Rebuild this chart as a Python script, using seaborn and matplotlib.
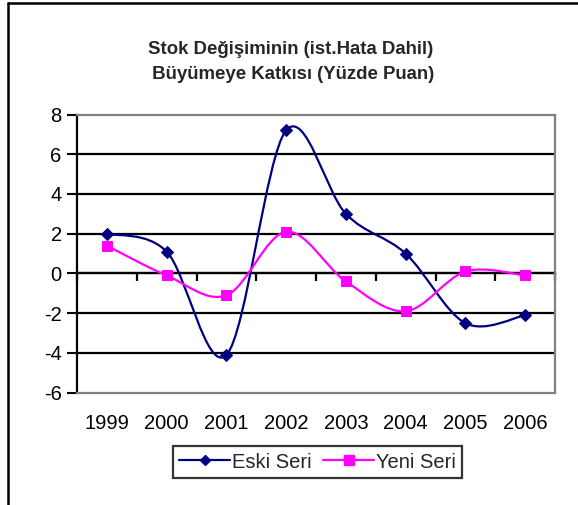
import numpy as np
import matplotlib
matplotlib.use("Agg")
import matplotlib.pyplot as plt
import seaborn as sns
from matplotlib.path import Path
from matplotlib.patches import PathPatch
from matplotlib.lines import Line2D

years = ["1999", "2000", "2001", "2002", "2003", "2004", "2005", "2006"]
eski = [2.0, 1.1, -4.1, 7.2, 3.0, 1.0, -2.5, -2.1]
yeni = [1.4, -0.1, -1.1, 2.1, -0.4, -1.9, 0.1, -0.1]
title = "Stok Değişiminin (ist.Hata Dahil)\n Büyümeye Katkısı (Yüzde Puan)"

sns.set_theme(style="white")
plt.rcParams["font.family"] = ["Liberation Sans", "DejaVu Sans"]
plt.rcParams["axes.unicode_minus"] = False

fig = plt.figure(figsize=(5.78, 5.05), dpi=100)
ax = fig.add_axes([77 / 578, 1 - 392.7 / 505, (555 - 77) / 578, (392.7 - 114.5) / 505])


def smooth_path(ys):
    # Excel-style smoothed line: cubic Bezier segments (Catmull-Rom tangents)
    pts = np.column_stack([np.arange(len(ys)), ys]).astype(float)
    verts = [pts[0]]
    codes = [Path.MOVETO]
    n = len(pts)
    for i in range(n - 1):
        p0 = pts[max(i - 1, 0)]
        p1 = pts[i]
        p2 = pts[i + 1]
        p3 = pts[min(i + 2, n - 1)]
        verts += [p1 + (p2 - p0) / 6, p2 - (p3 - p1) / 6, p2]
        codes += [Path.CURVE4] * 3
    return Path(verts, codes)


series = [("Eski Seri", eski, "#000080", "D", 6.5), ("Yeni Seri", yeni, "#FF00FF", "s", 7.5)]
handles = []
for name, vals, color, mk, ms in series:
    ax.add_patch(PathPatch(smooth_path(vals), facecolor="none", edgecolor=color,
                           linewidth=1.6, zorder=3))
    sns.lineplot(x=np.arange(len(vals)), y=vals, ax=ax, marker=mk, markersize=ms,
                 color=color, markeredgecolor=color, linestyle="", zorder=4)
    handles.append(Line2D([], [], color=color, linewidth=1.6, marker=mk,
                          markersize=ms - 1, markeredgecolor=color, label=name))

ax.set_xlim(-0.5, len(years) - 0.5)
ax.set_ylim(-6, 8)
ax.set_yticks(range(-6, 9, 2))
ax.set_xticks(range(len(years)))
ax.set_xticklabels(years)
ax.tick_params(axis="x", length=0, labelsize=14.5, pad=15, colors="black")
ax.tick_params(axis="y", length=7, width=1.5, direction="out", labelsize=14.5,
               pad=4, colors="black", left=True)

ax.yaxis.grid(True, color="black", linewidth=1.6)
for gl, v in zip(ax.get_ygridlines(), ax.get_yticks()):
    if v in (-6, 8):
        gl.set_visible(False)
ax.set_axisbelow(True)

for side in ["top", "right", "bottom"]:
    ax.spines[side].set_color("#808080")
    ax.spines[side].set_linewidth(1.6)
ax.spines["left"].set_color("black")
ax.spines["left"].set_linewidth(1.6)

# category axis crossing at zero, with ticks between categories
sec = ax.secondary_xaxis(6 / 14)
sec.set_xticks(np.arange(-0.5, len(years), 1.0))
sec.set_xticklabels([])
sec.tick_params(axis="x", direction="out", length=6, width=1.6, colors="black")
sec.spines["bottom"].set_color("black")
sec.spines["bottom"].set_linewidth(1.6)

fig.text(0.502, 1 - 62 / 505, title, ha="center", va="center", fontsize=13.4,
         fontweight="bold", linespacing=1.62)

leg = fig.legend(handles=handles, loc="center", bbox_to_anchor=(317.5 / 578, 1 - 462 / 505),
                 ncol=2, fontsize=14.5, frameon=True, fancybox=False, handlelength=2.5,
                 handletextpad=0.1, columnspacing=0.6, borderpad=0.3)
leg.get_frame().set_edgecolor("black")
leg.get_frame().set_linewidth(1.6)

# outer chart border (only left and top edges fall inside the image)
fig.add_artist(Line2D([7.5 / 578, 7.5 / 578], [0, 1 - 3 / 505], color="black", linewidth=1.8))
fig.add_artist(Line2D([7.5 / 578, 1], [1 - 3 / 505, 1 - 3 / 505], color="black", linewidth=1.8))

fig.savefig("out.png", dpi=100)
